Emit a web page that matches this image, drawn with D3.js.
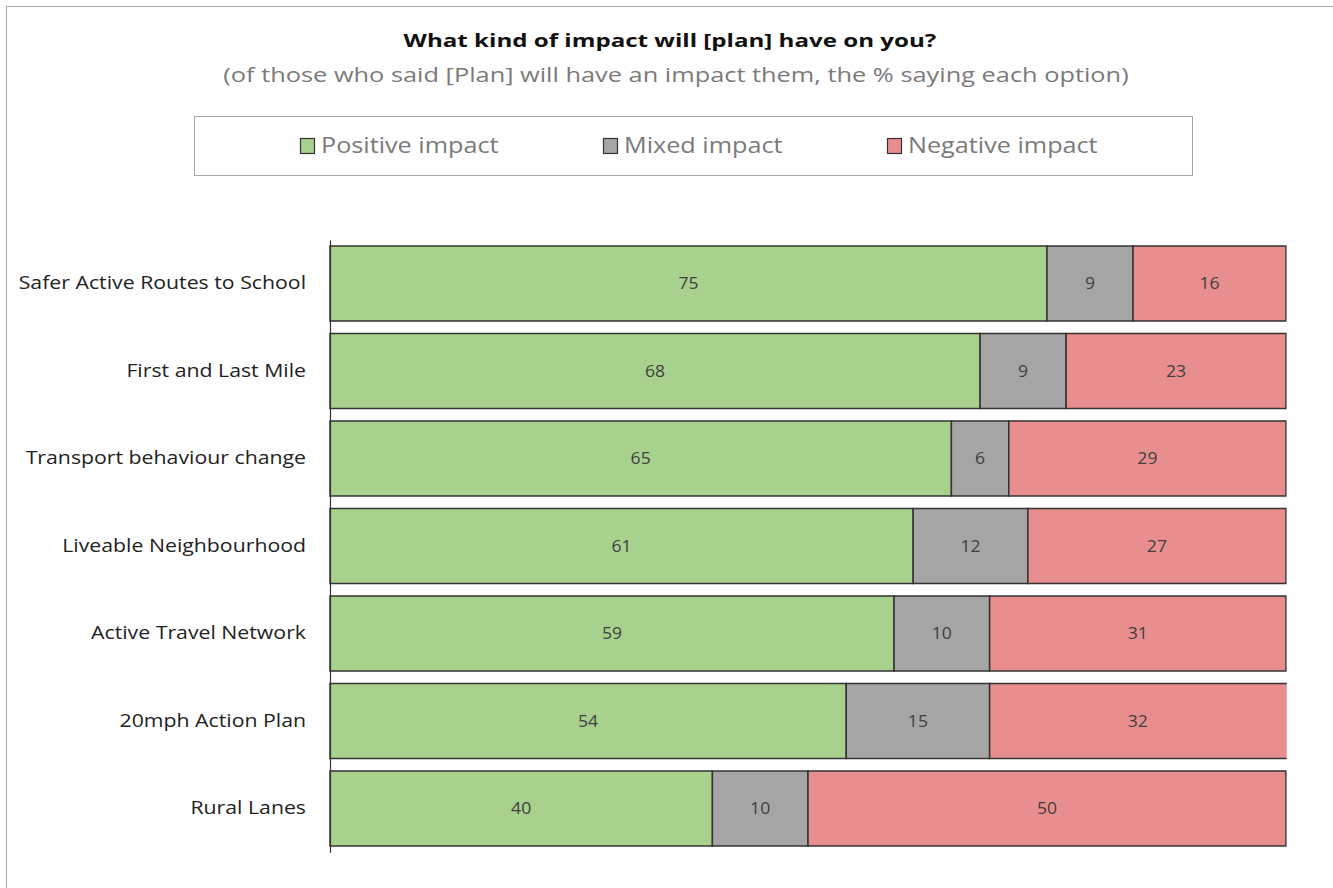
<!DOCTYPE html>
<html>
<head>
<meta charset="utf-8">
<script src="https://cdn.jsdelivr.net/npm/d3@7"></script>
<style>
  body { margin: 0; background: #fff; }
  text { font-family: "Open Sans", "Noto Sans", sans-serif; }
</style>
</head>
<body>
<svg id="chart" width="1333" height="888"></svg>
<script>
const categories = ["Safer Active Routes to School", "First and Last Mile", "Transport behaviour change",
  "Liveable Neighbourhood", "Active Travel Network", "20mph Action Plan", "Rural Lanes"]
const positive = [75, 68, 65, 61, 59, 54, 40]
const mixed = [9, 9, 6, 12, 10, 15, 10]
const negative = [16, 23, 29, 27, 31, 32, 50]
const seriesNames = ["Positive impact", "Mixed impact", "Negative impact"]
const seriesColors = ["#a9d18e", "#a5a5a5", "#e98e8e"]
const xTicks = [0, 100]

// the original is drawn a bit wide, so stretch text horizontally
function stretch(sel, k) {
  sel.each(function() {
    const len = this.getComputedTextLength()
    d3.select(this)
      .attr("textLength", len * k)
      .attr("lengthAdjust", "spacingAndGlyphs")
  })
}

svg = d3.select("#chart")
width = +svg.attr("width")
height = +svg.attr("height")

// outer frame
svg.append("rect")
  .attr("x", 6.5).attr("y", 6.5)
  .attr("width", width).attr("height", height)
  .attr("fill", "none").attr("stroke", "#a6a6a6")

svg.append("text")
  .attr("x", 670).attr("y", 47)
  .attr("text-anchor", "middle")
  .attr("font-size", 18).attr("font-weight", "bold").attr("fill", "#111")
  .text("What kind of impact will [plan] have on you?")
  .call(stretch, 1.34)

svg.append("text")
  .attr("x", 676).attr("y", 82)
  .attr("text-anchor", "middle")
  .attr("font-size", 19.5).attr("fill", "#7a7a7a")
  .text("(of those who said [Plan] will have an impact them, the % saying each option)")
  .call(stretch, 1.3)

// legend
svg.append("rect")
  .attr("x", 194.5).attr("y", 116.5)
  .attr("width", 998).attr("height", 59)
  .attr("fill", "#fff").attr("stroke", "#a6a6a6")

legendX = [300, 603, 887]
const lg = svg.append("g").selectAll("g")
  .data(seriesNames)
  .enter().append("g")
  .attr("transform", (d, i) => `translate(${legendX[i]}, 0)`)
lg.append("rect")
  .attr("x", 0.5).attr("y", 138.5)
  .attr("width", 14).attr("height", 15)
  .attr("fill", (d, i) => seriesColors[i])
  .attr("stroke", "#333").attr("stroke-width", 1.2)
lg.append("text")
  .attr("x", 21).attr("y", 153)
  .attr("font-size", 21).attr("fill", "#7a7a7a")
  .text(d => d)
  .call(stretch, 1.2)

// scales
x = d3.scaleLinear()
  .domain(xTicks)
  .range([330, 1286])

y = d3.scaleBand()
  .domain(categories)
  .range([239.75, 852.25])
  .paddingInner(0.143)
  .paddingOuter(0.0715)

rows = categories.map((c, i) => ({
  cat: c,
  vals: [positive[i], mixed[i], negative[i]]
}))

svg.append("clipPath").attr("id", "plotclip")
  .append("rect")
  .attr("x", 320).attr("y", 200)
  .attr("width", x(100) - 320 + 0.75).attr("height", 700)

const plot = svg.append("g").attr("clip-path", "url(#plotclip)")
const labels = svg.append("g")

rows.forEach(r => {
  let acc = 0
  r.vals.forEach((v, j) => {
    const x0 = acc
    acc += v
    plot.append("rect")
      .attr("x", x(x0)).attr("y", y(r.cat))
      .attr("width", x(acc) - x(x0)).attr("height", y.bandwidth())
      .attr("fill", seriesColors[j])
      .attr("stroke", "#333").attr("stroke-width", 1.5)
    labels.append("text")
      .attr("x", (x(x0) + x(Math.min(acc, 100))) / 2)
      .attr("y", y(r.cat) + y.bandwidth() / 2)
      .attr("dy", "0.35em")
      .attr("text-anchor", "middle")
      .attr("font-size", 16).attr("fill", "#404040")
      .text(v)
  })
})
labels.selectAll("text").call(stretch, 1.1)

// y-axis
const yAxis = svg.append("g")
  .attr("transform", `translate(${x(0)}, 0)`)
  .call(d3.axisLeft(y).tickSize(0).tickPadding(24))
yAxis.select(".domain").attr("stroke", "#333").attr("stroke-width", 1.2)
yAxis.selectAll("text")
  .attr("font-size", 17.5).attr("fill", "#222")
  .style("font-family", "'Open Sans', sans-serif")
  .call(stretch, 1.215)
</script>
</body>
</html>
